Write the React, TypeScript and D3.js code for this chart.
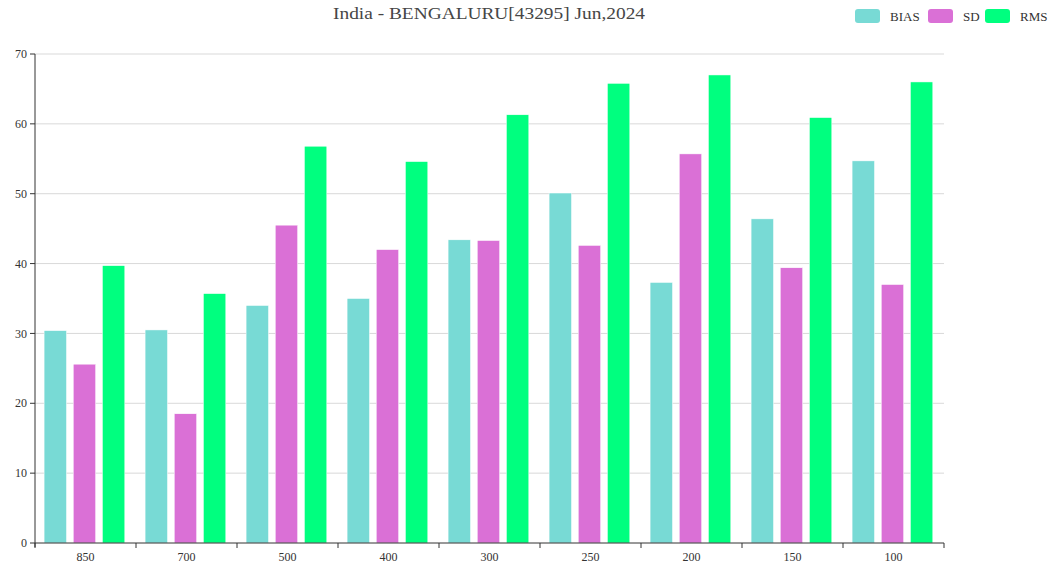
import React from 'react';
import * as d3 from 'd3';

const levels = ['850', '700', '500', '400', '300', '250', '200', '150', '100'];
const biasValues = [30.4, 30.5, 34.0, 35.0, 43.4, 50.1, 37.3, 46.4, 54.7];
const sdValues = [25.6, 18.5, 45.5, 42.0, 43.3, 42.6, 55.7, 39.4, 37.0];
const rmsValues = [39.7, 35.7, 56.8, 54.6, 61.3, 65.8, 67.0, 60.9, 66.0];
const yTicks = [0, 10, 20, 30, 40, 50, 60, 70];

const seriesNames = ['BIAS', 'SD', 'RMS'];
const seriesColors = ['#78dad5', '#da70d6', '#00ff7f'];

const W = 1052;
const H = 567;
const margin = { top: 54, right: 108, bottom: 24, left: 35 };
const FONT = '"Liberation Serif", "DejaVu Serif", serif';

const App: React.FC = () => {
  const innerW = W - margin.left - margin.right;
  const innerH = H - margin.top - margin.bottom;

  const x = d3.scaleBand<string>()
    .domain(levels)
    .range([margin.left, margin.left + innerW])
    .paddingInner(0)
    .paddingOuter(0);

  // three bars per category, ~30% gap between bars
  const offset = x.bandwidth() * 0.09;
  const barW = x.bandwidth() * 0.222;
  const barStep = barW * 1.3;

  const y = d3.scaleLinear()
    .domain([0, 70])
    .range([margin.top + innerH, margin.top]);

  const series = [biasValues, sdValues, rmsValues];

  const boundaries = levels.map(l => x(l) as number).concat([margin.left + innerW]);

  // legend layout
  const legendItems = [
    { name: 'BIAS', icon: 855, text: 890 },
    { name: 'SD', icon: 928, text: 963 },
    { name: 'RMS', icon: 985, text: 1020 },
  ];

  return (
    <svg width={W} height={H} style={{ position: 'absolute', left: 0, top: 0, background: '#fff' }}>
      {/* title */}
      <text x={489} y={19} textAnchor="middle" fontFamily={FONT} fontSize={17}
        fill="#464646" textLength={312} lengthAdjust="spacingAndGlyphs">
        India - BENGALURU[43295] Jun,2024
      </text>

      {/* legend */}
      {legendItems.map((item, i) => (
        <g key={item.name}>
          <rect x={item.icon} y={9} width={25} height={14} rx={3} fill={seriesColors[i]} />
          <text x={item.text} y={20.5} fontFamily={FONT} fontSize={13} fill="#333">{item.name}</text>
        </g>
      ))}

      {/* grid lines */}
      {yTicks.filter(t => t > 0).map(t => (
        <line key={t} x1={margin.left} x2={margin.left + innerW} y1={y(t)} y2={y(t)}
          stroke="#d9d9d9" strokeWidth={1} />
      ))}

      {/* bars */}
      {series.map((vals, si) => (
        <g key={seriesNames[si]}>
          {levels.map((lvl, i) => (
            <rect key={lvl}
              x={(x(lvl) as number) + offset + si * barStep}
              y={y(vals[i])}
              width={barW}
              height={y(0) - y(vals[i])}
              fill={seriesColors[si]}
              stroke="#fff" strokeWidth={0.5} />
          ))}
        </g>
      ))}

      {/* y axis */}
      <line x1={margin.left} x2={margin.left} y1={margin.top} y2={y(0) + 4} stroke="#333" strokeWidth={1} />
      {yTicks.map(t => (
        <g key={t}>
          <line x1={margin.left - 5} x2={margin.left} y1={y(t)} y2={y(t)} stroke="#333" />
          <text x={margin.left - 8} y={y(t)} dy="0.35em" textAnchor="end"
            fontFamily={FONT} fontSize={12} fill="#333">{t}</text>
        </g>
      ))}

      {/* x axis */}
      <line x1={margin.left} x2={margin.left + innerW} y1={y(0)} y2={y(0)} stroke="#333" strokeWidth={1} />
      {boundaries.map((b, i) => (
        <line key={i} x1={b} x2={b} y1={y(0)} y2={y(0) + 5} stroke="#333" />
      ))}
      {levels.map(lvl => (
        <text key={lvl} x={(x(lvl) as number) + x.bandwidth() / 2} y={y(0) + 18}
          textAnchor="middle" fontFamily={FONT} fontSize={12} fill="#333">{lvl}</text>
      ))}
    </svg>
  );
};

export default App;
